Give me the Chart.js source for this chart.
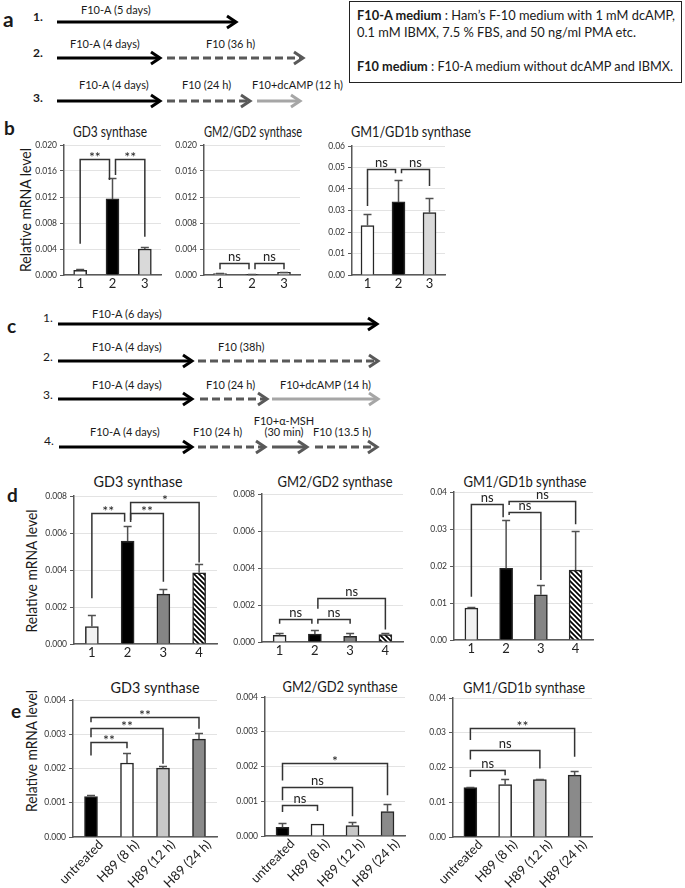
<!DOCTYPE html>
<html><head><meta charset="utf-8"><title>Ganglioside synthase mRNA levels</title>
<script src="https://cdn.jsdelivr.net/npm/chart.js@4.4.1/dist/chart.umd.min.js"></script>
<style>
html,body{margin:0;padding:0;background:#fff;}
#page{position:relative;width:685px;height:888px;overflow:hidden;background:#fff;}
#page canvas{position:absolute;}
#overlay{position:absolute;left:0;top:0;}
</style></head>
<body><div id="page">
<svg id="overlay" width="685" height="888" font-family="Lato, 'Open Sans', sans-serif" fill="#1a1a1a">
  <!-- panel letters -->
  <text x="3" y="27" font-size="21" font-weight="bold">a</text>
  <text x="4" y="135" font-size="19" font-weight="bold">b</text>
  <text x="7" y="333" font-size="19" font-weight="bold">c</text>
  <text x="7" y="502" font-size="19" font-weight="bold">d</text>
  <text x="11" y="718" font-size="19" font-weight="bold">e</text>

  <!-- panel a -->
  <text x="33" y="21" font-size="12" font-weight="bold">1.</text>
  <text x="33" y="57" font-size="12" font-weight="bold">2.</text>
  <text x="33" y="102" font-size="12" font-weight="bold">3.</text>
  <g font-size="11">
    <text x="81" y="14">F10-A (5 days)</text>
    <text x="70" y="48">F10-A (4 days)</text>
    <text x="206" y="48">F10 (36 h)</text>
    <text x="79" y="89">F10-A (4 days)</text>
    <text x="182" y="89">F10 (24 h)</text>
    <text x="252" y="89">F10+dcAMP (12 h)</text>
  </g>
  <rect x="349.5" y="1.5" width="332" height="81" fill="none" stroke="#222" stroke-width="1"/>
  <g font-size="12.5">
    <text x="357" y="20" textLength="318" lengthAdjust="spacingAndGlyphs"><tspan font-weight="bold">F10-A medium</tspan> : Ham’s F-10 medium with 1 mM dcAMP,</text>
    <text x="357" y="37" textLength="279" lengthAdjust="spacingAndGlyphs">0.1 mM IBMX, 7.5 % FBS, and 50 ng/ml PMA etc.</text>
    <text x="357" y="71" textLength="316" lengthAdjust="spacingAndGlyphs"><tspan font-weight="bold">F10 medium</tspan> : F10-A medium without dcAMP and IBMX.</text>
  </g>

  <!-- panel c -->
  <g font-size="12">
    <text x="43" y="322">1.</text>
    <text x="43" y="361">2.</text>
    <text x="43" y="399">3.</text>
    <text x="44" y="445">4.</text>
  </g>
  <g font-size="11">
    <text x="92" y="318">F10-A (6 days)</text>
    <text x="92" y="351">F10-A (4 days)</text>
    <text x="218" y="351">F10 (38h)</text>
    <text x="92" y="389">F10-A (4 days)</text>
    <text x="206" y="389">F10 (24 h)</text>
    <text x="280" y="389">F10+dcAMP (14 h)</text>
    <text x="90" y="436">F10-A (4 days)</text>
    <text x="193" y="436">F10 (24 h)</text>
    <text x="284" y="425" text-anchor="middle">F10+α-MSH</text>
    <text x="284" y="436" text-anchor="middle">(30 min)</text>
    <text x="313" y="436">F10 (13.5 h)</text>
  </g>

  <!-- chart titles -->
  <g font-size="15" text-anchor="middle">
    <text x="110" y="137" textLength="74" lengthAdjust="spacingAndGlyphs">GD3 synthase</text>
    <text x="253" y="137" textLength="98" lengthAdjust="spacingAndGlyphs">GM2/GD2 synthase</text>
    <text x="411" y="137" textLength="120" lengthAdjust="spacingAndGlyphs">GM1/GD1b synthase</text>
    <text x="138" y="487" textLength="89" lengthAdjust="spacingAndGlyphs">GD3 synthase</text>
    <text x="335" y="487" textLength="115" lengthAdjust="spacingAndGlyphs">GM2/GD2 synthase</text>
    <text x="525" y="487" textLength="123" lengthAdjust="spacingAndGlyphs">GM1/GD1b synthase</text>
    <text x="155" y="693" textLength="89" lengthAdjust="spacingAndGlyphs">GD3 synthase</text>
    <text x="340" y="692" textLength="115" lengthAdjust="spacingAndGlyphs">GM2/GD2 synthase</text>
    <text x="524" y="693" textLength="122" lengthAdjust="spacingAndGlyphs">GM1/GD1b synthase</text>
  </g>
  <!-- y axis titles -->
  <g font-size="15" text-anchor="middle">
    <text transform="translate(31,210) rotate(-90)" textLength="124" lengthAdjust="spacingAndGlyphs">Relative mRNA level</text>
    <text transform="translate(37,571) rotate(-90)" textLength="123" lengthAdjust="spacingAndGlyphs">Relative mRNA level</text>
    <text transform="translate(37,751) rotate(-90)" textLength="122" lengthAdjust="spacingAndGlyphs">Relative mRNA level</text>
  </g>
</svg>
</div>
<script>
// ---------------- data ----------------
const catsNum3 = ['1', '2', '3'];
const catsNum4 = ['1', '2', '3', '4'];
const catsH89  = ['untreated', 'H89 (8 h)', 'H89 (12 h)', 'H89 (24 h)'];

// significance brackets: [fromIndex, toIndex, bracketLevel, leftLegEnd, rightLegEnd, label]
const bGD3Mean = [0.0007, 0.0117, 0.0040];
const bGD3Err  = [0.0003, 0.0033, 0.0003];
const bGD3Sig  = [[0, 1, 0.0178, 0.0048, 0.0146, '**'], [1, 2, 0.0178, 0.0154, 0.0059, '**']];

const bGM2Mean = [0.0002, 0.0001, 0.0004];
const bGM2Err  = [0.0001, 0.00005, 0.0001];
const bGM2Sig  = [[0, 1, 0.0019, 0.0009, 0.0009, 'ns'], [1, 2, 0.0019, 0.0009, 0.0009, 'ns']];

const bGM1Mean = [0.023, 0.034, 0.029];
const bGM1Err  = [0.0055, 0.0102, 0.007];
const bGM1Sig  = [[0, 1, 0.0491, 0.0321, 0.0473, 'ns'], [1, 2, 0.0491, 0.0473, 0.0414, 'ns']];

const dGD3Mean = [0.00094, 0.00557, 0.0027, 0.00385];
const dGD3Err  = [0.00064, 0.00083, 0.0003, 0.00047];
const dGD3Sig  = [[0, 1, 0.00706, 0.00247, 0.00661, '**'], [1, 2, 0.0071, 0.0066, 0.00337, '**'], [1, 3, 0.00769, 0.0067, 0.0044, '*']];

const dGM2Mean = [0.00036, 0.00043, 0.0003, 0.0004];
const dGM2Err  = [0.00015, 0.0002, 0.00018, 0.00006];
const dGM2Sig  = [[0, 1, 0.00126, 0.00099, 0.00099, 'ns'], [1, 2, 0.00126, 0.00099, 0.00099, 'ns'], [1, 3, 0.00239, 0.0018, 0.00067, 'ns']];

const dGM1Mean = [0.0086, 0.0194, 0.0122, 0.0189];
const dGM1Err  = [0.0003, 0.013, 0.0027, 0.0106];
const dGM1Sig  = [[0, 1, 0.0367, 0.0117, 0.0332, 'ns'], [1, 2, 0.0345, 0.0338, 0.0162, 'ns'], [1, 3, 0.0377, 0.0365, 0.0313, 'ns']];

const eGD3Mean = [0.00118, 0.00216, 0.00201, 0.00286];
const eGD3Err  = [0.00006, 0.00029, 0.00006, 0.00017];
const eGD3Sig  = [[0, 1, 0.00277, 0.00238, 0.00259, '**'], [0, 2, 0.00317, 0.00291, 0.00214, '**'], [0, 3, 0.00351, 0.00335, 0.00316, '**']];

const eGM2Mean = [0.00025, 0.00034, 0.0003, 0.0007];
const eGM2Err  = [0.00012, 0, 0.0001, 0.00023];
const eGM2Sig  = [[0, 1, 0.0009, 0.00069, 0.00072, 'ns'], [0, 2, 0.00141, 0.00103, 0.00057, 'ns'], [0, 3, 0.0021, 0.0016, 0.00117, '*']];

const eGM1Mean = [0.0142, 0.0151, 0.0165, 0.0178];
const eGM1Err  = [0.0002, 0.0015, 0.0002, 0.0012];
const eGM1Sig  = [[0, 1, 0.0194, 0.0173, 0.0178, 'ns'], [0, 2, 0.025, 0.0223, 0.0197, 'ns'], [0, 3, 0.03125, 0.0279, 0.0231, '**']];

// ---------------- drawing ----------------
const FONT = 'Lato, "Open Sans", sans-serif';
Chart.defaults.font.family = FONT;
Chart.defaults.color = '#222';
const page = document.getElementById('page');
const svg = document.getElementById('overlay');
const NS = 'http://www.w3.org/2000/svg';

function arrow(x1, x2, y, color, dashed) {
  const l = document.createElementNS(NS, 'line');
  const a = {x1: x1, y1: y, x2: x2 - 2, y2: y, stroke: color, 'stroke-width': 3};
  for (const k in a) l.setAttribute(k, a[k]);
  if (dashed) l.setAttribute('stroke-dasharray', '8 4');
  svg.appendChild(l);
  const p = document.createElementNS(NS, 'polyline');
  const b = {points: (x2 - 9) + ',' + (y - 6) + ' ' + x2 + ',' + y + ' ' + (x2 - 9) + ',' + (y + 6),
             fill: 'none', stroke: color, 'stroke-width': 3};
  for (const k in b) p.setAttribute(k, b[k]);
  svg.appendChild(p);
}
const DARK = '#000', GREY = '#595959', LIGHT = '#a6a6a6';
// panel a
arrow(57, 236, 22, DARK, 0);
arrow(57, 160, 58, DARK, 0); arrow(167, 303, 58, GREY, 1);
arrow(57, 160, 101, DARK, 0); arrow(167, 250, 101, GREY, 1); arrow(257, 300, 101, LIGHT, 0);
// panel c
arrow(58, 377, 324, DARK, 0);
arrow(58, 192, 361, DARK, 0); arrow(198, 378, 361, GREY, 1);
arrow(58, 192, 399, DARK, 0); arrow(200, 267, 399, GREY, 1); arrow(272, 378, 399, LIGHT, 0);
arrow(59, 192, 447, DARK, 0); arrow(198, 265, 447, GREY, 1); arrow(272, 307, 447, GREY, 0); arrow(315, 377, 447, GREY, 1);

function hatchPattern() {
  const c = document.createElement('canvas');
  c.width = 5; c.height = 5;
  const g = c.getContext('2d');
  g.fillStyle = '#fff'; g.fillRect(0, 0, 5, 5);
  g.strokeStyle = '#000'; g.lineWidth = 1.7;
  g.beginPath();
  for (const o of [-5, 0, 5]) { g.moveTo(o - 1, -1); g.lineTo(o + 6, 6); }
  g.stroke();
  return g.createPattern(c, 'repeat');
}
const fillsB = ['#ffffff', '#000000', '#d9d9d9'];
const fillsD = ['#f2f2f2', '#000000', '#858585', hatchPattern()];
const fillsE = ['#000000', '#ffffff', '#c8c8c8', '#8a8a8a'];

function makeChart(area, cats, means, errs, fills, sig, yMax, yStep, dec, rotated) {
  const [L, T, R, B] = area;
  const yW = 42, padT = 14, padR = 8, xH = rotated ? 72 : 24;
  const cv = document.createElement('canvas');
  const w = R - L + yW + padR, h = B - T + padT + xH;
  cv.width = w; cv.height = h;
  cv.style.left = (L - yW) + 'px'; cv.style.top = (T - padT) + 'px';
  cv.style.width = w + 'px'; cv.style.height = h + 'px';
  page.appendChild(cv);

  const errPlugin = {
    id: 'errbars',
    afterDatasetsDraw(chart) {
      const ctx = chart.ctx, y = chart.scales.y;
      const meta = chart.getDatasetMeta(0);
      ctx.save();
      ctx.strokeStyle = '#505050'; ctx.lineWidth = 1.5;
      meta.data.forEach((bar, i) => {
        if (!errs[i]) return;
        const yt = Math.round(y.getPixelForValue(means[i] + errs[i])) + 0.5;
        ctx.beginPath();
        ctx.moveTo(bar.x, bar.y); ctx.lineTo(bar.x, yt);
        ctx.moveTo(bar.x - 4, yt); ctx.lineTo(bar.x + 4, yt);
        ctx.stroke();
      });
      ctx.restore();
    }
  };
  const sigPlugin = {
    id: 'sigbrackets',
    afterDraw(chart) {
      const ctx = chart.ctx, x = chart.scales.x, y = chart.scales.y;
      ctx.save();
      ctx.strokeStyle = '#333'; ctx.lineWidth = 1.5; ctx.fillStyle = '#222';
      ctx.textAlign = 'center'; ctx.textBaseline = 'alphabetic';
      sig.forEach(([i, j, top, lb, rb, lab]) => {
        const offL = sig.some(s => s[1] === i) ? 3 : 0;
        const offR = sig.some(s => s[0] === j) ? -3 : 0;
        const xi = x.getPixelForValue(i) + offL, xj = x.getPixelForValue(j) + offR;
        const yt = Math.round(y.getPixelForValue(top)) + 0.5;
        ctx.beginPath();
        ctx.moveTo(xi, y.getPixelForValue(lb));
        ctx.lineTo(xi, yt); ctx.lineTo(xj, yt);
        ctx.lineTo(xj, y.getPixelForValue(rb));
        ctx.stroke();
        if (lab.indexOf('*') >= 0) {
          ctx.font = '14px ' + FONT;
          ctx.fillText(lab, (xi + xj) / 2, yt + 2);
        } else {
          ctx.font = '13px ' + FONT;
          ctx.fillText(lab, (xi + xj) / 2, yt - 2.5);
        }
      });
      ctx.restore();
    }
  };

  new Chart(cv, {
    type: 'bar',
    data: {
      labels: cats,
      datasets: [{data: means, backgroundColor: fills, borderColor: '#262626', borderWidth: 1.5, barThickness: 13}]
    },
    options: {
      responsive: false, animation: false, devicePixelRatio: 1,
      layout: {padding: {top: padT, right: padR, left: 0, bottom: 0}},
      plugins: {legend: {display: false}, tooltip: {enabled: false}, title: {display: false}},
      scales: {
        x: {
          grid: {display: false, drawTicks: false},
          border: {display: true, color: '#595959', width: 1.5},
          ticks: rotated
            ? {font: {size: 13}, color: '#222', minRotation: 45, maxRotation: 45, autoSkip: false, padding: 0, labelOffset: 10}
            : {font: {size: 13}, color: '#222', autoSkip: false, padding: 1},
          afterFit(s) { s.height = xH; s.paddingLeft = 0; s.paddingRight = 0; }
        },
        y: {
          min: 0, max: yMax,
          ticks: {stepSize: yStep, font: {size: 8.5}, color: '#333', padding: 3,
                  callback: v => Number(v).toFixed(dec)},
          grid: {color: '#e3e3e3', lineWidth: 1, tickColor: '#595959', tickLength: 4},
          border: {display: true, color: '#595959', width: 1.5},
          afterFit(s) { s.width = yW; s.paddingTop = 0; s.paddingBottom = 0; }
        }
      }
    },
    plugins: [errPlugin, sigPlugin]
  });
}

makeChart([64, 145, 161, 275], catsNum3, bGD3Mean, bGD3Err, fillsB, bGD3Sig, 0.020, 0.004, 3, false);
makeChart([204, 145, 300, 275], catsNum3, bGM2Mean, bGM2Err, fillsB, bGM2Sig, 0.020, 0.004, 3, false);
makeChart([352, 146, 445, 275], catsNum3, bGM1Mean, bGM1Err, fillsB, bGM1Sig, 0.06, 0.01, 2, false);

makeChart([74, 496, 217, 644], catsNum4, dGD3Mean, dGD3Err, fillsD, dGD3Sig, 0.008, 0.002, 3, false);
makeChart([262, 494, 403, 642], catsNum4, dGM2Mean, dGM2Err, fillsD, dGM2Sig, 0.008, 0.002, 3, false);
makeChart([454, 492, 593, 640], catsNum4, dGM1Mean, dGM1Err, fillsD, dGM1Sig, 0.04, 0.01, 2, false);

makeChart([73, 700, 217, 837], catsH89, eGD3Mean, eGD3Err, fillsE, eGD3Sig, 0.004, 0.001, 3, true);
makeChart([265, 697, 405, 836], catsH89, eGM2Mean, eGM2Err, fillsE, eGM2Sig, 0.004, 0.001, 3, true);
makeChart([453, 698, 592, 837], catsH89, eGM1Mean, eGM1Err, fillsE, eGM1Sig, 0.04, 0.01, 2, true);
</script>
</body></html>
